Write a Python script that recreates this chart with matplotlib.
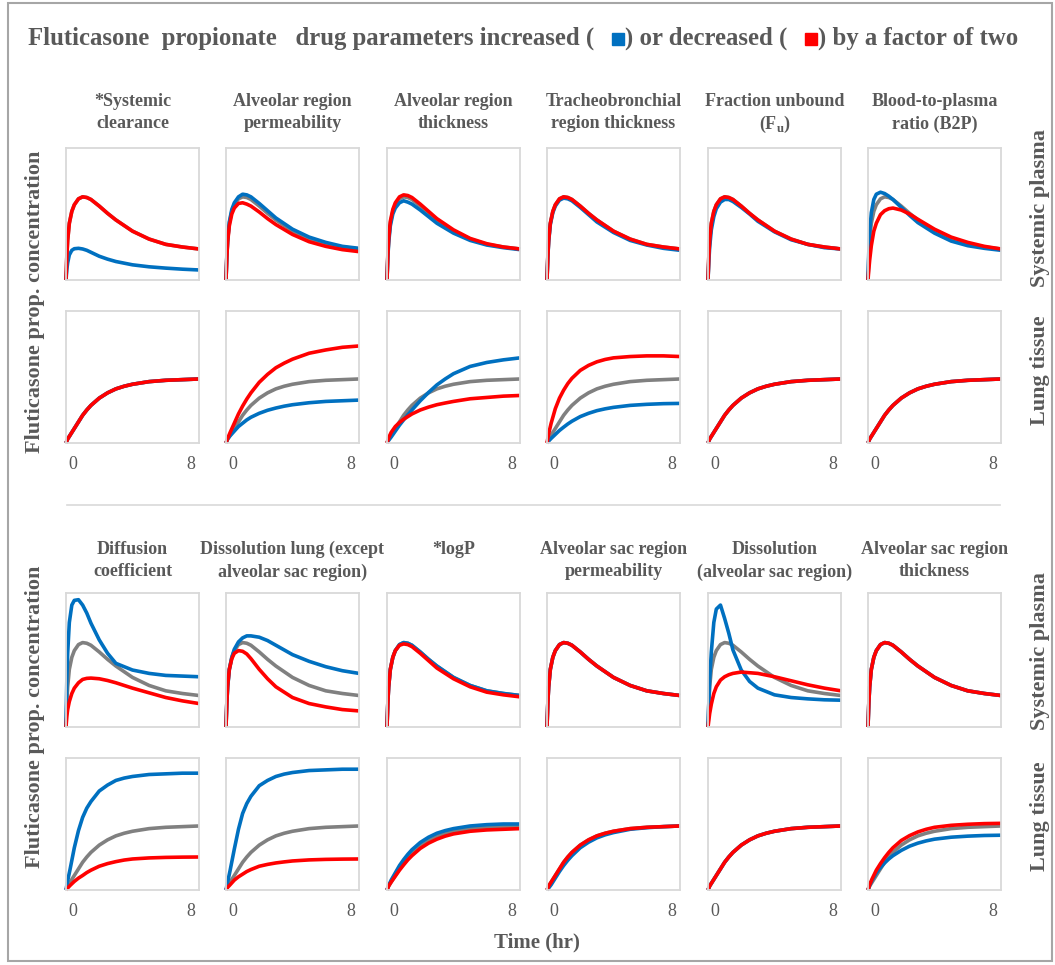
import matplotlib
matplotlib.use("Agg")
import matplotlib.pyplot as plt
from matplotlib.patches import Rectangle

# ─── Data (relative concentration 0..1 of panel height) ───
TIME_P = [0, 0.05, 0.1, 0.2, 0.35, 0.5, 0.75, 1, 1.25, 1.5, 2, 2.5, 3, 4, 5, 6, 7, 8]
TIME_L = [0, 0.1, 0.25, 0.5, 0.75, 1, 1.25, 1.5, 2, 2.5, 3, 3.5, 4, 5, 6, 7, 8]

BASE_PLASMA = [0, 0.18, 0.30, 0.43, 0.52, 0.57, 0.615, 0.63, 0.625, 0.61, 0.56, 0.505, 0.455, 0.37, 0.31, 0.27, 0.25, 0.235]
BASE_LUNG = [0, 0.03, 0.06, 0.11, 0.16, 0.21, 0.25, 0.285, 0.34, 0.38, 0.41, 0.43, 0.445, 0.465, 0.475, 0.48, 0.485]

# systemic clearance
CLEAR_P_UP = [0, 0.08, 0.13, 0.19, 0.225, 0.237, 0.24, 0.235, 0.225, 0.21, 0.18, 0.158, 0.14, 0.115, 0.10, 0.09, 0.082, 0.076]

# alveolar region permeability
AVPERM_P_UP = [0, 0.18, 0.30, 0.44, 0.535, 0.585, 0.63, 0.65, 0.645, 0.63, 0.58, 0.525, 0.47, 0.385, 0.325, 0.285, 0.255, 0.24]
AVPERM_P_DOWN = [0, 0.17, 0.29, 0.41, 0.50, 0.545, 0.58, 0.585, 0.575, 0.56, 0.515, 0.465, 0.42, 0.345, 0.29, 0.255, 0.23, 0.215]
AVPERM_L_UP = [0, 0.03, 0.055, 0.09, 0.125, 0.15, 0.175, 0.195, 0.225, 0.248, 0.265, 0.279, 0.29, 0.305, 0.315, 0.32, 0.325]
AVPERM_L_DOWN = [0, 0.035, 0.08, 0.15, 0.22, 0.28, 0.333, 0.38, 0.46, 0.52, 0.57, 0.605, 0.635, 0.68, 0.705, 0.725, 0.735]

# alveolar region thickness
AVTHK_P_UP = [0, 0.17, 0.28, 0.41, 0.50, 0.545, 0.585, 0.60, 0.59, 0.575, 0.53, 0.48, 0.43, 0.355, 0.30, 0.265, 0.245, 0.23]
AVTHK_P_DOWN = [0, 0.19, 0.31, 0.445, 0.535, 0.585, 0.63, 0.645, 0.64, 0.625, 0.575, 0.52, 0.465, 0.38, 0.315, 0.275, 0.25, 0.235]
AVTHK_L_UP = [0, 0.02, 0.045, 0.09, 0.135, 0.175, 0.213, 0.25, 0.32, 0.383, 0.44, 0.485, 0.525, 0.58, 0.61, 0.63, 0.645]
AVTHK_L_DOWN = [0, 0.04, 0.08, 0.125, 0.155, 0.18, 0.20, 0.22, 0.25, 0.272, 0.29, 0.303, 0.315, 0.335, 0.345, 0.355, 0.36]

# tracheobronchial region thickness
TBTHK_P_UP = [0, 0.17, 0.29, 0.42, 0.51, 0.56, 0.605, 0.62, 0.615, 0.60, 0.55, 0.495, 0.44, 0.36, 0.30, 0.265, 0.24, 0.225]
TBTHK_L_UP = [0, 0.015, 0.035, 0.065, 0.095, 0.12, 0.144, 0.165, 0.20, 0.225, 0.245, 0.259, 0.27, 0.285, 0.293, 0.298, 0.30]
TBTHK_L_DOWN = [0, 0.07, 0.15, 0.26, 0.34, 0.40, 0.45, 0.49, 0.55, 0.588, 0.615, 0.633, 0.645, 0.655, 0.66, 0.66, 0.655]

# fraction unbound
FU_P_UP = [0, 0.14, 0.25, 0.38, 0.48, 0.54, 0.59, 0.61, 0.61, 0.595, 0.55, 0.50, 0.445, 0.365, 0.305, 0.27, 0.245, 0.235]

# blood-to-plasma ratio
B2P_P_UP = [0, 0.22, 0.36, 0.51, 0.61, 0.65, 0.665, 0.655, 0.635, 0.61, 0.55, 0.49, 0.435, 0.355, 0.295, 0.26, 0.24, 0.225]
B2P_P_DOWN = [0, 0.08, 0.15, 0.26, 0.37, 0.43, 0.495, 0.525, 0.54, 0.545, 0.53, 0.50, 0.46, 0.385, 0.325, 0.285, 0.255, 0.235]

# diffusion coefficient
DIFF_P_UP = [0, 0.35, 0.55, 0.78, 0.91, 0.945, 0.95, 0.91, 0.85, 0.775, 0.65, 0.55, 0.475, 0.425, 0.40, 0.385, 0.38, 0.375]
DIFF_P_DOWN = [0, 0.08, 0.13, 0.19, 0.25, 0.29, 0.33, 0.355, 0.363, 0.365, 0.36, 0.347, 0.33, 0.29, 0.255, 0.22, 0.195, 0.175]
DIFF_L_UP = [0, 0.07, 0.16, 0.32, 0.45, 0.55, 0.62, 0.67, 0.75, 0.795, 0.83, 0.848, 0.86, 0.875, 0.88, 0.885, 0.885]
DIFF_L_DOWN = [0, 0.015, 0.035, 0.065, 0.09, 0.11, 0.132, 0.15, 0.18, 0.20, 0.215, 0.227, 0.235, 0.243, 0.247, 0.249, 0.25]

# dissolution lung (except alveolar sac region)
DISL_P_UP = [0, 0.18, 0.30, 0.43, 0.52, 0.58, 0.635, 0.665, 0.68, 0.68, 0.67, 0.645, 0.61, 0.54, 0.49, 0.45, 0.42, 0.40]
DISL_P_DOWN = [0, 0.18, 0.31, 0.43, 0.51, 0.55, 0.57, 0.565, 0.545, 0.51, 0.43, 0.36, 0.30, 0.22, 0.175, 0.15, 0.13, 0.12]
DISL_L_UP = [0, 0.06, 0.15, 0.31, 0.46, 0.58, 0.655, 0.71, 0.79, 0.83, 0.86, 0.878, 0.89, 0.905, 0.91, 0.915, 0.915]
DISL_L_DOWN = [0, 0.02, 0.04, 0.075, 0.10, 0.12, 0.14, 0.155, 0.18, 0.194, 0.205, 0.213, 0.22, 0.228, 0.232, 0.234, 0.235]

# logP
LOGP_P_DOWN = [0, 0.18, 0.30, 0.43, 0.52, 0.57, 0.61, 0.62, 0.615, 0.60, 0.55, 0.495, 0.44, 0.36, 0.30, 0.26, 0.24, 0.225]
LOGP_L_UP = [0, 0.035, 0.075, 0.13, 0.185, 0.23, 0.27, 0.305, 0.36, 0.40, 0.43, 0.45, 0.465, 0.485, 0.495, 0.50, 0.50]
LOGP_L_DOWN = [0, 0.03, 0.06, 0.105, 0.15, 0.19, 0.228, 0.26, 0.315, 0.355, 0.385, 0.408, 0.425, 0.445, 0.455, 0.46, 0.465]

# alveolar sac region permeability
SACPERM_L_UP = [0, 0.015, 0.04, 0.09, 0.14, 0.185, 0.225, 0.26, 0.32, 0.362, 0.395, 0.418, 0.435, 0.46, 0.472, 0.48, 0.485]

# dissolution (alveolar sac region)
DISS_P_UP = [0, 0.18, 0.35, 0.56, 0.78, 0.88, 0.91, 0.81, 0.70, 0.575, 0.425, 0.34, 0.29, 0.24, 0.22, 0.21, 0.203, 0.20]
DISS_P_DOWN = [0, 0.05, 0.10, 0.17, 0.25, 0.30, 0.35, 0.375, 0.39, 0.40, 0.41, 0.405, 0.40, 0.375, 0.345, 0.315, 0.29, 0.27]

# alveolar sac region thickness
SACTHK_L_UP = [0, 0.035, 0.075, 0.13, 0.17, 0.205, 0.235, 0.26, 0.30, 0.332, 0.355, 0.372, 0.385, 0.40, 0.408, 0.413, 0.415]
SACTHK_L_DOWN = [0, 0.04, 0.085, 0.15, 0.20, 0.245, 0.285, 0.32, 0.375, 0.412, 0.44, 0.46, 0.475, 0.49, 0.498, 0.503, 0.505]

TOP_TITLES = [("*Systemic", "clearance"), ("Alveolar region", "permeability"),
              ("Alveolar region", "thickness"), ("Tracheobronchial", "region thickness"),
              ("Fraction unbound", "(F$_\\mathregular{u}$)"), ("Blood-to-plasma", "ratio (B2P)")]
BOTTOM_TITLES = [("Diffusion", "coefficient"), ("Dissolution lung (except", "alveolar sac region)"),
                 ("*logP", ""), ("Alveolar sac region", "permeability"),
                 ("Dissolution", "(alveolar sac region)"), ("Alveolar sac region", "thickness")]

# (plasma up, plasma down, lung up, lung down) per panel
TOP_PANELS = [
    (CLEAR_P_UP, BASE_PLASMA, BASE_LUNG, BASE_LUNG),
    (AVPERM_P_UP, AVPERM_P_DOWN, AVPERM_L_UP, AVPERM_L_DOWN),
    (AVTHK_P_UP, AVTHK_P_DOWN, AVTHK_L_UP, AVTHK_L_DOWN),
    (TBTHK_P_UP, BASE_PLASMA, TBTHK_L_UP, TBTHK_L_DOWN),
    (FU_P_UP, BASE_PLASMA, BASE_LUNG, BASE_LUNG),
    (B2P_P_UP, B2P_P_DOWN, BASE_LUNG, BASE_LUNG),
]
BOTTOM_PANELS = [
    (DIFF_P_UP, DIFF_P_DOWN, DIFF_L_UP, DIFF_L_DOWN),
    (DISL_P_UP, DISL_P_DOWN, DISL_L_UP, DISL_L_DOWN),
    (BASE_PLASMA, LOGP_P_DOWN, LOGP_L_UP, LOGP_L_DOWN),
    (BASE_PLASMA, BASE_PLASMA, SACPERM_L_UP, BASE_LUNG),
    (DISS_P_UP, DISS_P_DOWN, BASE_LUNG, BASE_LUNG),
    (BASE_PLASMA, BASE_PLASMA, SACTHK_L_UP, SACTHK_L_DOWN),
]

# ─── Style ──────────────────────────────────────────────────────────
W, H = 1055, 965
TXT = '#595959'
BLUE = '#0070C0'
RED = '#FF0000'
GRAY = '#808080'
FRAME = '#D9D9D9'
SERIF = 'Liberation Serif'

fig = plt.figure(figsize=(W / 100, H / 100), dpi=100)

col_left = [66, 226, 387, 547, 708, 868]
col_w = 133
# (top, bottom) pixel rows of the four panel rows
rows = [(148, 280), (311, 443), (593, 727), (758, 890)]
title_y = [(101, 124), (549, 572)]
side_y = [(302, 208, 370), (717, 651, 816)]  # left label, systemic plasma, lung tissue


def px_axes(x0, y0, x1, y1):
    return fig.add_axes([x0 / W, 1 - y1 / H, (x1 - x0) / W, (y1 - y0) / H])


def draw_panel(ax, t, up, down, base):
    ax.plot(t, base, color=GRAY, lw=2.6, clip_on=False, solid_capstyle='butt')
    ax.plot(t, up, color=BLUE, lw=2.6, clip_on=False, solid_capstyle='butt')
    ax.plot(t, down, color=RED, lw=2.6, clip_on=False, solid_capstyle='butt')
    ax.set_xlim(0, 8)
    ax.set_ylim(0, 1)
    ax.set_xticks([])
    ax.set_yticks([])
    for s in ax.spines.values():
        s.set_color(FRAME)
        s.set_linewidth(1.3)


def ftext(xp, yp, s, **kw):
    kw.setdefault('family', SERIF)
    kw.setdefault('color', TXT)
    return fig.text(xp / W, 1 - yp / H, s, **kw)


for block, (panels, titles) in enumerate([(TOP_PANELS, TOP_TITLES), (BOTTOM_PANELS, BOTTOM_TITLES)]):
    rp = rows[2 * block]
    rl = rows[2 * block + 1]
    for i, (pu, pd, lu, ld) in enumerate(panels):
        x0 = col_left[i]
        axp = px_axes(x0, rp[0], x0 + col_w, rp[1])
        draw_panel(axp, TIME_P, pu, pd, BASE_PLASMA)
        axl = px_axes(x0, rl[0], x0 + col_w, rl[1])
        draw_panel(axl, TIME_L, lu, ld, BASE_LUNG)

        # column title, two lines
        for line, yy in zip(titles[i], title_y[block]):
            ftext(x0 + col_w / 2, yy, line, ha='center', va='center', fontsize=13, fontweight='bold')
        # x tick labels
        for frac, lab in [(0.05, '0'), (0.94, '8')]:
            ftext(x0 + frac * col_w, rl[1] + 22, lab, ha='center', va='center', fontsize=13)

    # left / right row labels
    yl, ys, yt = side_y[block]
    ftext(35, yl, 'Fluticasone prop. concentration', rotation=90, ha='center', va='center',
          fontsize=16, fontweight='bold')
    ftext(1040, ys, 'Systemic plasma', rotation=90, ha='center', va='center',
          fontsize=16, fontweight='bold')
    ftext(1040, yt, 'Lung tissue', rotation=90, ha='center', va='center',
          fontsize=16, fontweight='bold')

# separator between the two blocks
fig.add_artist(plt.Line2D([67 / W, 1000 / W], [1 - 505 / H, 1 - 505 / H], color=FRAME, lw=1.2))

# x axis label
ftext(537, 942, 'Time (hr)', ha='center', va='center', fontsize=15, fontweight='bold')

# ─── Title with coloured legend squares ───────────────────────────
renderer = fig.canvas.get_renderer()
pieces = ["Fluticasone  propionate   drug parameters increased (", None,
          ") or decreased (", None, ") by a factor of two"]
sq_colors = [BLUE, RED]
x = 28
for p in pieces:
    if p is None:
        c = sq_colors.pop(0)
        fig.add_artist(Rectangle(((x + 18) / W, 1 - 45 / H), 12 / W, 12 / H,
                                 color=c, transform=fig.transFigure))
        x += 31
        continue
    t = ftext(x, 38, p, ha='left', va='center', fontsize=17.8, fontweight='bold')
    x += t.get_window_extent(renderer).width

# figure frame
fig.add_artist(Rectangle((8 / W, 4 / H), 1044 / W, 958 / H, fill=False, edgecolor='#A6A6A6',
                         lw=1.5, transform=fig.transFigure))

fig.savefig('out.png', dpi=100)
